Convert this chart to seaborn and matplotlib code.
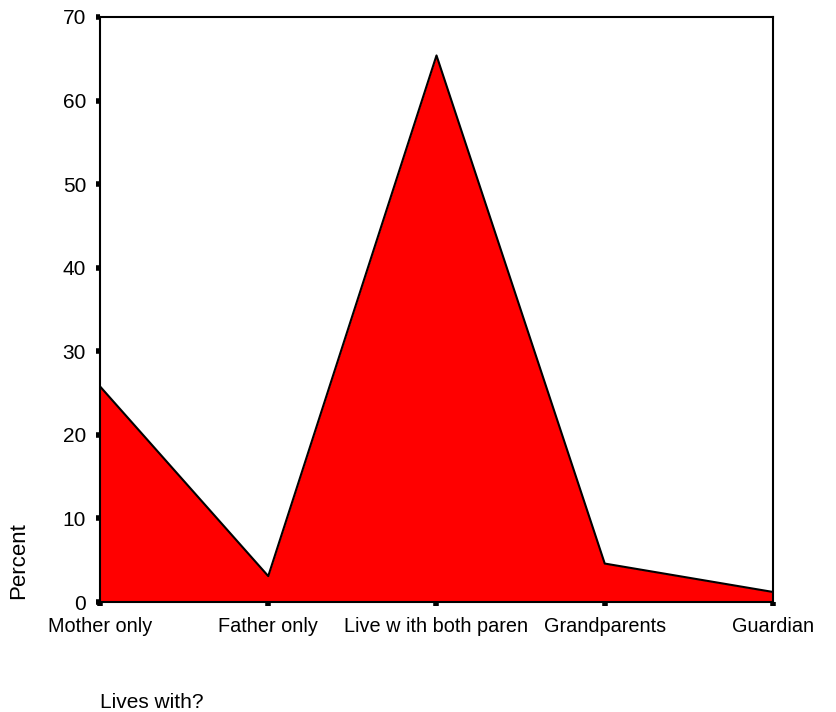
import matplotlib
matplotlib.use("Agg")
import matplotlib.pyplot as plt
import seaborn as sns
import pandas as pd

# Data
categories = ["Mother only", "Father only", "Live w ith both paren", "Grandparents", "Guardian"]
percent = [25.8, 3.1, 65.4, 4.6, 1.2]
y_ticks = [0, 10, 20, 30, 40, 50, 60, 70]

df = pd.DataFrame({"pos": range(len(categories)), "Percent": percent, "Lives with": categories})

sns.set_style("white")
plt.rcParams["font.family"] = ["Liberation Sans", "DejaVu Sans"]
plt.rcParams["text.color"] = "black"
plt.rcParams["xtick.color"] = "black"
plt.rcParams["ytick.color"] = "black"

fig = plt.figure(figsize=(8.37, 7.12), dpi=100)
ax = fig.add_axes([100 / 837, 1 - 602 / 712, 673 / 837, 585 / 712])

ax.fill_between(df["pos"], df["Percent"], 0, color="#ff0000", linewidth=0)
sns.lineplot(data=df, x="pos", y="Percent", color="black", linewidth=1.5, ax=ax)

ax.set_xlim(0, len(categories) - 1)
ax.set_ylim(0, 70)
ax.set_xticks(df["pos"])
ax.set_xticklabels(categories, fontsize=14.3)
ax.set_yticks(y_ticks)
ax.set_yticklabels([str(t) for t in y_ticks], fontsize=15)
ax.tick_params(axis="both", direction="out", length=3, width=4, colors="black",
               bottom=True, left=True)
ax.tick_params(axis="x", pad=8)
ax.tick_params(axis="y", pad=7)

for s in ax.spines.values():
    s.set_color("black")
    s.set_linewidth(1.5)

ax.set_xlabel("")
ax.set_ylabel("Percent", fontsize=16, color="black")
ax.yaxis.set_label_coords(-0.105, 0.07)

fig.text(100 / 837, 1 - 703 / 712, "Lives with?", fontsize=15, ha="left", va="center")

fig.savefig("out.png", dpi=100)
